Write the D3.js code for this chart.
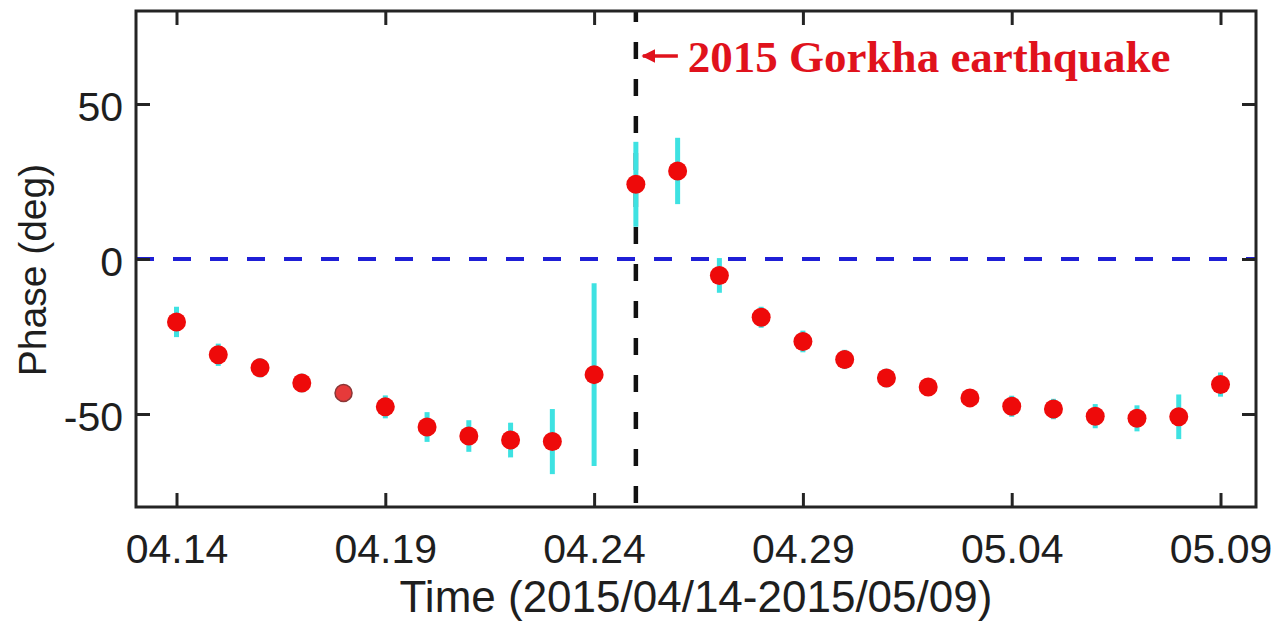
<!DOCTYPE html>
<html>
<head>
<meta charset="utf-8">
<script src="https://cdn.jsdelivr.net/npm/d3@7"></script>
<style>
  html, body { margin: 0; padding: 0; background: #fff; }
  svg { display: block; }
  .tick text { font-family: "Liberation Sans", Arial, sans-serif; fill: #1e1e1e; }
</style>
</head>
<body>
<div id="chart"></div>
<script>
// day labels, 2015/04/14 .. 2015/05/09
const dayLabels = [
  '04.14', '04.15', '04.16', '04.17', '04.18', '04.19', '04.20', '04.21', '04.22',
  '04.23', '04.24', '04.25', '04.26', '04.27', '04.28', '04.29', '04.30', '05.01',
  '05.02', '05.03', '05.04', '05.05', '05.06', '05.07', '05.08', '05.09'
];
// phase (deg) per day
const phase = [
  -20.3, -30.9, -35.1, -40.0, -43.2, -47.7, -54.2, -57.1, -58.4,
  -58.9, -37.3, 24.1, 28.4, -5.3, -18.8, -26.6, -32.4, -38.4,
  -41.3, -44.8, -47.5, -48.4, -50.7, -51.4, -50.9, -40.5
];
// error bar half-length (deg)
const phaseErr = [
  4.9, 3.6, 3.1, 3.0, 1.0, 3.7, 4.8, 5.1, 5.6,
  10.5, 29.5, 13.7, 10.7, 5.6, 3.4, 3.5, 3.1, 3.0,
  2.7, 2.7, 3.4, 3.3, 3.9, 4.2, 7.2, 3.9
];
const xTickIdx = [0, 5, 10, 15, 20, 25];
const yTicks = [-50, 0, 50];
const quakeIdx = 11;
const quakeLabel = '2015 Gorkha earthquake';

const W = 1287, H = 629;
const margin = { top: 11, right: 31, bottom: 122, left: 136 };

const svg = d3.select('#chart').append('svg')
  .attr('width', W)
  .attr('height', H);

const x = d3.scaleLinear()
  .domain([-0.97, 25.85])
  .range([margin.left, W - margin.right]);

const y = d3.scaleLinear()
  .domain([-80, 80])
  .range([H - margin.bottom, margin.top]);

const axisColor = '#242424';
const tickLen = 14;

// zero reference line
svg.append('line')
  .attr('x1', x.range()[0]).attr('x2', x.range()[1])
  .attr('y1', y(0)).attr('y2', y(0))
  .attr('stroke', '#1f1fd6')
  .attr('stroke-width', 4)
  .attr('stroke-dasharray', '18 19');

// earthquake line
svg.append('line')
  .attr('x1', x(quakeIdx)).attr('x2', x(quakeIdx))
  .attr('y1', y.range()[1]).attr('y2', y.range()[0])
  .attr('stroke', '#111')
  .attr('stroke-width', 4.5)
  .attr('stroke-dasharray', '17 20')
  .attr('stroke-dashoffset', 6);

const pts = phase.map((v, i) => ({ i, v, e: phaseErr[i] }));

// error bars
svg.append('g').selectAll('line')
  .data(pts)
  .join('line')
  .attr('x1', d => x(d.i)).attr('x2', d => x(d.i))
  .attr('y1', d => y(d.v - d.e)).attr('y2', d => y(d.v + d.e))
  .attr('stroke', '#3ee2e2')
  .attr('stroke-width', 5);

// markers
svg.append('g').selectAll('circle')
  .data(pts)
  .join('circle')
  .attr('cx', d => x(d.i))
  .attr('cy', d => y(d.v))
  .attr('r', d => d.i === 4 ? 8.5 : 9.5)
  .attr('fill', d => d.i === 4 ? '#e63a3a' : '#ee0a0a')
  .attr('stroke', d => d.i === 4 ? '#8a3636' : 'none')
  .attr('stroke-width', 1.5);

// axes
const fmtX = i => dayLabels[i];
const styleAxis = g => {
  g.selectAll('.domain').remove();
  g.selectAll('.tick line').attr('stroke', axisColor).attr('stroke-width', 3);
};

svg.append('g')
  .attr('transform', `translate(0,${y.range()[0]})`)
  .call(d3.axisBottom(x).tickValues(xTickIdx).tickFormat(fmtX).tickSize(-tickLen).tickPadding(27))
  .call(styleAxis)
  .call(g => g.selectAll('text').attr('font-size', 41));

svg.append('g')
  .attr('transform', `translate(0,${y.range()[1]})`)
  .call(d3.axisTop(x).tickValues(xTickIdx).tickFormat('').tickSize(-tickLen))
  .call(styleAxis);

svg.append('g')
  .attr('transform', `translate(${x.range()[0]},0)`)
  .call(d3.axisLeft(y).tickValues(yTicks).tickFormat(d => String(d)).tickSize(-tickLen).tickPadding(13))
  .call(styleAxis)
  .call(g => g.selectAll('text').attr('font-size', 41).attr('dy', '0.40em'));

svg.append('g')
  .attr('transform', `translate(${x.range()[1]},0)`)
  .call(d3.axisRight(y).tickValues(yTicks).tickFormat('').tickSize(-tickLen))
  .call(styleAxis);

// frame
svg.append('rect')
  .attr('x', x.range()[0]).attr('y', y.range()[1])
  .attr('width', x.range()[1] - x.range()[0])
  .attr('height', y.range()[0] - y.range()[1])
  .attr('fill', 'none')
  .attr('stroke', axisColor)
  .attr('stroke-width', 3);

// axis titles
svg.append('text')
  .attr('x', (x.range()[0] + x.range()[1]) / 2)
  .attr('y', 612)
  .attr('text-anchor', 'middle')
  .attr('font-family', '"Liberation Sans", Arial, sans-serif')
  .attr('font-size', 44)
  .attr('fill', '#1e1e1e')
  .text('Time (2015/04/14-2015/05/09)');

svg.append('text')
  .attr('transform', `translate(46,270) rotate(-90)`)
  .attr('text-anchor', 'middle')
  .attr('font-family', '"Liberation Sans", Arial, sans-serif')
  .attr('font-size', 39)
  .attr('fill', '#1e1e1e')
  .text('Phase (deg)');

// annotation
const red = '#e0121c';
const ay = 56;
svg.append('defs').append('marker')
  .attr('id', 'arrow')
  .attr('viewBox', '0 0 10 10')
  .attr('refX', 9).attr('refY', 5)
  .attr('markerWidth', 4).attr('markerHeight', 4)
  .attr('orient', 'auto')
  .append('path')
  .attr('d', 'M0,0 L10,5 L0,10 Z')
  .attr('fill', red);

svg.append('line')
  .attr('x1', x(quakeIdx) + 42).attr('x2', x(quakeIdx) + 7)
  .attr('y1', ay).attr('y2', ay)
  .attr('stroke', red)
  .attr('stroke-width', 3.5)
  .attr('marker-end', 'url(#arrow)');

svg.append('text')
  .attr('x', x(quakeIdx) + 52)
  .attr('y', 72)
  .attr('font-family', '"Liberation Serif", "Times New Roman", serif')
  .attr('font-weight', 'bold')
  .attr('font-size', 45)
  .attr('fill', red)
  .text(quakeLabel);
</script>
</body>
</html>
